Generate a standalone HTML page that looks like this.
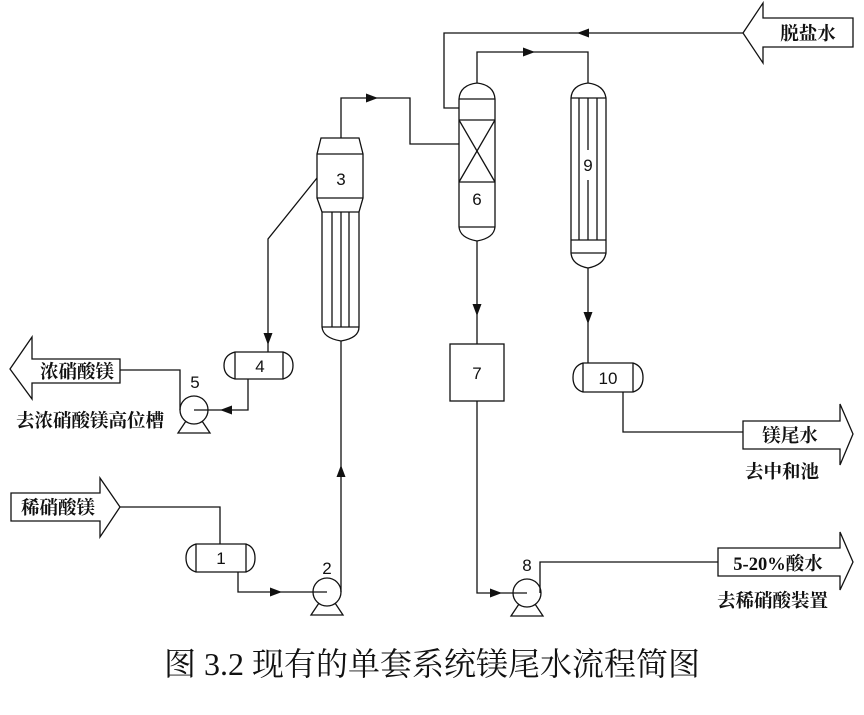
<!DOCTYPE html>
<html><head><meta charset="utf-8"><style>
html,body{margin:0;padding:0;background:#fff;}
svg{display:block;}
.n{font-family:"Liberation Sans",sans-serif;font-size:17px;fill:#111;}
.c{font-family:"Liberation Serif","Noto Serif CJK SC",serif;font-size:18.5px;fill:#111;font-weight:bold;}
</style></head><body>
<svg width="864" height="715" viewBox="0 0 864 715" xmlns="http://www.w3.org/2000/svg">
<g fill="none" stroke="#111" stroke-width="1.3">
<path d="M321,138 L359,138 L363,154 L363,198 L359,212 L359,327 Q359,338 341,341 Q323,338 322,327 L322,212 L317,198 L317,154 Z"/>
<line x1="317" y1="154" x2="363" y2="154"/>
<line x1="317" y1="198" x2="363" y2="198"/>
<line x1="322" y1="212" x2="359" y2="212"/>
<line x1="322" y1="327" x2="359" y2="327"/>
<line x1="332" y1="212" x2="332" y2="327"/>
<line x1="341" y1="212" x2="341" y2="327"/>
<line x1="349" y1="212" x2="349" y2="327"/>
<path d="M459,99 Q460,85 477,83 Q494,85 495,99 L495,227 Q494,238 477,241 Q460,238 459,227 Z"/>
<line x1="459" y1="99" x2="495" y2="99"/>
<line x1="459" y1="120" x2="495" y2="120"/>
<line x1="459" y1="182" x2="495" y2="182"/>
<line x1="459" y1="227" x2="495" y2="227"/>
<line x1="459" y1="120" x2="495" y2="182"/>
<line x1="495" y1="120" x2="459" y2="182"/>
<path d="M571,98 Q572,85 588,83 Q604,85 606,98 L606,253 Q604,265 588,268 Q572,265 571,253 Z"/>
<line x1="571" y1="98" x2="606" y2="98"/>
<line x1="571" y1="240" x2="606" y2="240"/>
<line x1="571" y1="253" x2="606" y2="253"/>
<line x1="579" y1="98" x2="579" y2="240"/>
<line x1="597" y1="98" x2="597" y2="240"/>
<line x1="588" y1="98" x2="588" y2="150"/>
<line x1="588" y1="180" x2="588" y2="240"/>
<rect x="450" y="344" width="54" height="57"/>
<path d="M235,352 Q224,355 224,365.5 Q224,376 235,379 L283,379 Q293,376 293,365.5 Q293,355 283,352 Z"/>
<line x1="235" y1="352" x2="235" y2="379"/><line x1="283" y1="352" x2="283" y2="379"/>
<path d="M196,544 Q186,547 186,558 Q186,569 196,572 L246,572 Q255,569 255,558 Q255,547 246,544 Z"/>
<line x1="196" y1="544" x2="196" y2="572"/><line x1="246" y1="544" x2="246" y2="572"/>
<path d="M583,363 Q573,366 573,377.5 Q573,389 583,392 L633,392 Q643,389 643,377.5 Q643,366 633,363 Z"/>
<line x1="583" y1="363" x2="583" y2="392"/><line x1="633" y1="363" x2="633" y2="392"/>
<circle cx="194" cy="410" r="14"/>
<path d="M186,421 L178,433 L210,433 L202,421"/>
<circle cx="327" cy="592" r="14"/>
<path d="M319,603 L311,615 L343,615 L335,603"/>
<circle cx="527" cy="593" r="14"/>
<path d="M519,604 L511,616 L543,616 L535,604"/>
<polyline points="341,138 341,98 410,98 410,144 459,144"/>
<polyline points="477,83 477,52 588,52 588,83"/>
<polyline points="743,33 444,33 444,108 459,108"/>
<polyline points="477,241 477,344"/>
<polyline points="588,268 588,363"/>
<polyline points="477,401 477,593 527,593"/>
<polyline points="540,593 540,562 718,562"/>
<polyline points="623,392 623,432 743,432"/>
<polyline points="317,178 268,239 268,352"/>
<polyline points="248,379 248,410 194,410"/>
<polyline points="120,370 180,370 180,410"/>
<polyline points="120,507 220,507 220,544"/>
<polyline points="238,572 238,592 327,592"/>
<polyline points="341,592 341,341"/>
<path d="M743,33 L763,3 L763,18 L853,18 L853,47 L763,47 L763,63 Z"/>
<path d="M10,369 L32,337 L32,359 L120,359 L120,383 L32,383 L32,399 Z"/>
<path d="M11,493 L100,493 L100,478 L120,507 L100,537 L100,521 L11,521 Z"/>
<path d="M743,421 L840,421 L840,404 L853,434 L840,465 L840,449 L743,449 Z"/>
<path d="M718,548 L840,548 L840,532 L853,562 L840,590 L840,576 L718,576 Z"/>
</g>
<g fill="#111">
<polygon points="378,98 366,93.5 366,102.5"/>
<polygon points="535,52 523,47.5 523,56.5"/>
<polygon points="577,33 589,28.5 589,37.5"/>
<polygon points="477,316 472.5,304 481.5,304"/>
<polygon points="588,324 583.5,312 592.5,312"/>
<polygon points="268,345 263.5,333 272.5,333"/>
<polygon points="220,410 232,405.5 232,414.5"/>
<polygon points="282,592 270,587.5 270,596.5"/>
<polygon points="341,465 336.5,477 345.5,477"/>
<polygon points="502,593 490,588.5 490,597.5"/>
</g>
<g class="n" text-anchor="middle">
<text x="341" y="185">3</text>
<text x="477" y="205">6</text>
<text x="588" y="171">9</text>
<text x="477" y="379">7</text>
<text x="260" y="372">4</text>
<text x="221" y="564">1</text>
<text x="608" y="384">10</text>
<text x="195" y="388">5</text>
<text x="327" y="574">2</text>
<text x="527" y="571">8</text>
</g>
<g class="c">
<text x="808" y="40" text-anchor="middle">脱盐水</text>
<text x="77" y="378" text-anchor="middle">浓硝酸镁</text>
<text x="16" y="427">去浓硝酸镁高位槽</text>
<text x="58" y="514" text-anchor="middle">稀硝酸镁</text>
<text x="790" y="442" text-anchor="middle">镁尾水</text>
<text x="745" y="478">去中和池</text>
<text x="778" y="570" text-anchor="middle">5-20%酸水</text>
<text x="717" y="607">去稀硝酸装置</text>
</g>
<text x="432" y="675" text-anchor="middle" style="font-family:'Liberation Serif','Noto Serif CJK SC',serif;font-size:32px;fill:#111;">图 3.2 现有的单套系统镁尾水流程简图</text>
</svg>
</body></html>
